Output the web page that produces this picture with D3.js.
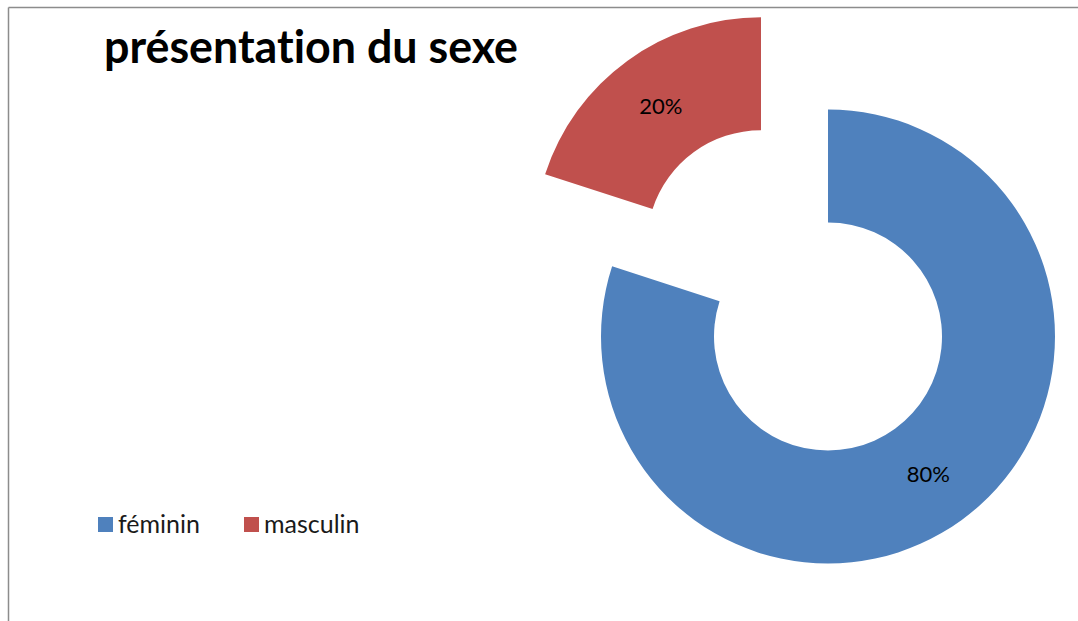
<!DOCTYPE html>
<html>
<head>
<meta charset="utf-8">
<script src="https://cdn.jsdelivr.net/npm/d3@7"></script>
<style>
  html, body { margin: 0; padding: 0; background: #fff; }
  svg { display: block; }
  text { font-family: Lato, "Open Sans", sans-serif; font-variant-ligatures: none; }
</style>
</head>
<body>
<div id="chart"></div>
<script>
// data
const categories = ["féminin", "masculin"];
const values = [80, 20];
const labels = ["80%", "20%"];
const colors = ["#4F81BD", "#C0504D"];
const explode = [0, 114];

const W = 1078, H = 621;
const cx = 828, cy = 336.5;
const outerR = 227, innerR = 114;

const svg = d3.select("#chart").append("svg")
    .attr("width", W)
    .attr("height", H);

// frame (only top and left edges are visible)
svg.append("line")
    .attr("x1", 8.5).attr("y1", 7.5).attr("x2", W).attr("y2", 7.5)
    .attr("stroke", "#8c8c8c").attr("stroke-width", 1.5);
svg.append("line")
    .attr("x1", 8.5).attr("y1", 7.5).attr("x2", 8.5).attr("y2", H)
    .attr("stroke", "#8c8c8c").attr("stroke-width", 1.5);

// title
svg.append("text")
    .attr("x", 104)
    .attr("y", 63)
    .attr("textLength", 414)
    .attr("lengthAdjust", "spacingAndGlyphs")
    .style("font-size", "45px")
    .style("font-weight", "bold")
    .style("fill", "#000")
    .text("présentation du sexe");

// donut
const data = categories.map((c, i) => ({ name: c, value: values[i], label: labels[i], color: colors[i], off: explode[i] }));

const pie = d3.pie().sort(null).value(d => d.value);
const arc = d3.arc().innerRadius(innerR).outerRadius(outerR);
const labelArc = d3.arc().innerRadius((innerR + outerR) / 2).outerRadius((innerR + outerR) / 2);

const g = svg.append("g").attr("transform", `translate(${cx},${cy})`);

const slices = g.selectAll(".slice")
    .data(pie(data))
    .enter()
    .append("g")
    .attr("class", "slice")
    .attr("transform", d => {
        const mid = (d.startAngle + d.endAngle) / 2;
        const dx = Math.sin(mid) * d.data.off;
        const dy = -Math.cos(mid) * d.data.off;
        return `translate(${dx},${dy})`;
    });

slices.append("path")
    .attr("d", arc)
    .style("fill", d => d.data.color);

slices.append("text")
    .attr("transform", d => `translate(${labelArc.centroid(d)})`)
    .attr("text-anchor", "middle")
    .attr("dy", "0.35em")
    .style("font-size", "22px")
    .style("fill", "#000")
    .text(d => d.data.label);

// legend
const legend = svg.append("g").attr("transform", "translate(98,517)");
const legendX = [0, 146];
const items = legend.selectAll(".item")
    .data(data)
    .enter()
    .append("g")
    .attr("class", "item")
    .attr("transform", (d, i) => `translate(${legendX[i]},0)`);

items.append("rect")
    .attr("width", 15)
    .attr("height", 15)
    .style("fill", d => d.color);

items.append("text")
    .attr("x", 20)
    .attr("y", 16)
    .style("font-size", "25px")
    .style("fill", "#1a1a1a")
    .text(d => d.name);
</script>
</body>
</html>
